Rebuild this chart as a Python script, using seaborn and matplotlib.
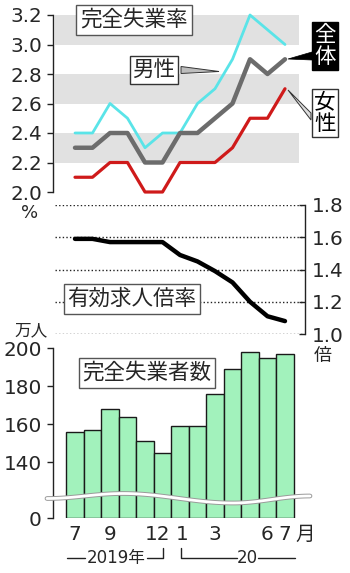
import numpy as np
import pandas as pd
import matplotlib
matplotlib.use("Agg")
import matplotlib.pyplot as plt
import matplotlib.patheffects as pe
import matplotlib.ticker as mticker
from matplotlib.patches import Polygon
from matplotlib.lines import Line2D
import seaborn as sns

sns.set_style("white")
plt.rcParams['font.family'] = ['DejaVu Sans', 'Noto Sans CJK JP']

# ---------------- data ----------------
months = ['2019-07', '2019-08', '2019-09', '2019-10', '2019-11', '2019-12',
          '2020-01', '2020-02', '2020-03', '2020-04', '2020-05', '2020-06', '2020-07']
rate_total = [2.3, 2.3, 2.4, 2.4, 2.2, 2.2, 2.4, 2.4, 2.5, 2.6, 2.9, 2.8, 2.9]
rate_men = [2.4, 2.4, 2.6, 2.5, 2.3, 2.4, 2.4, 2.6, 2.7, 2.9, 3.2, 3.1, 3.0]
rate_women = [2.1, 2.1, 2.2, 2.2, 2.0, 2.0, 2.2, 2.2, 2.2, 2.3, 2.5, 2.5, 2.7]
job_ratio = [1.59, 1.59, 1.57, 1.57, 1.57, 1.57, 1.49, 1.45, 1.39, 1.32, 1.20, 1.11, 1.08]
unemployed = [156, 157, 168, 164, 151, 145, 159, 159, 176, 189, 198, 195, 197]

rate_ticks = [2.0, 2.2, 2.4, 2.6, 2.8, 3.0, 3.2]
ratio_ticks = [1.0, 1.2, 1.4, 1.6, 1.8]
count_ticks = [0, 140, 160, 180, 200]
xtick_pos = [0, 2, 5, 6, 8, 11, 12]
xtick_labels = ['7', '9', '12', '1', '3', '6', '7']

idx = np.arange(len(months))
df = pd.DataFrame({'i': idx, 'total': rate_total, 'men': rate_men,
                   'women': rate_women, 'ratio': job_ratio, 'count': unemployed})

# ---------------- layout helpers ----------------
W, H = 350, 573
fig = plt.figure(figsize=(W / 100, H / 100), dpi=100)


def fx(x):
    return x / W


def fy(y):
    return 1 - y / H


def add_axes(top, bottom, left=53, right=305):
    return fig.add_axes([fx(left), fy(bottom), (right - left) / W, (bottom - top) / H])


def ftext(x, y, s, **kw):
    kw.setdefault('ha', 'center')
    kw.setdefault('va', 'center')
    return fig.text(fx(x), fy(y), s, **kw)


def fline(xs, ys, **kw):
    fig.add_artist(Line2D([fx(v) for v in xs], [fy(v) for v in ys],
                          transform=fig.transFigure, **kw))


def fpoly(pts, **kw):
    fig.add_artist(Polygon([(fx(a), fy(b)) for a, b in pts], closed=True,
                           transform=fig.transFigure, **kw))


XL = (-22 / 17.5, 230 / 17.5)  # x pixel = 75 + 17.5*i
TICKFS = 14.4
JP = 'Noto Sans CJK JP'
JPFS = 15.5

CYAN = '#5ae4e8'
GRAY = '#6c6c6c'
RED = '#cf1a1a'
BAND = '#e1e1e1'
GREEN = '#a2f2bc'
DARK = '#222222'

# ---------------- top: unemployment rate ----------------
ax1 = add_axes(15, 192)
for lo, hi in [(3.0, 3.2), (2.6, 2.8), (2.2, 2.4)]:
    ax1.axhspan(lo, hi, xmin=2 / 252, xmax=246 / 252, color=BAND, lw=0, zorder=0)
sns.lineplot(data=df, x='i', y='men', ax=ax1, color=CYAN, lw=2.0, zorder=3)
sns.lineplot(data=df, x='i', y='total', ax=ax1, color=GRAY, lw=3.2, zorder=4)
sns.lineplot(data=df, x='i', y='women', ax=ax1, color=RED, lw=2.3, zorder=5)
for l in ax1.lines:
    l.set_clip_on(False)
ax1.set_xlim(*XL)
ax1.set_ylim(2.0, 3.2)
ax1.set_yticks(rate_ticks)
ax1.set_yticklabels([f'{v:.1f}' for v in rate_ticks], fontsize=TICKFS)
ax1.set_xticks([])
ax1.set_xlabel('')
ax1.set_ylabel('')
for s in ['top', 'right', 'bottom']:
    ax1.spines[s].set_visible(False)
ax1.spines['left'].set_color(DARK)
ax1.spines['left'].set_linewidth(1)
ax1.tick_params(axis='y', direction='out', length=4, width=1, color=DARK, pad=4, left=True)
ax1.patch.set_alpha(0)

# ---------------- middle: job-offers ratio ----------------
ax2 = add_axes(205, 334)
ax2.hlines(ratio_ticks, -20 / 17.5, 228 / 17.5, colors=DARK, linestyles=(0, (1, 1.6)), lw=1, zorder=1)
sns.lineplot(data=df, x='i', y='ratio', ax=ax2, color='black', lw=3.2, zorder=3)
ax2.set_xlim(*XL)
ax2.set_ylim(1.0, 1.8)
ax2.yaxis.tick_right()
ax2.set_yticks(ratio_ticks)
ax2.set_yticklabels([f'{v:.1f}' for v in ratio_ticks], fontsize=TICKFS)
ax2.set_xticks([])
ax2.set_xlabel('')
ax2.set_ylabel('')
for s in ['top', 'left', 'bottom']:
    ax2.spines[s].set_visible(False)
ax2.spines['right'].set_color(DARK)
ax2.spines['right'].set_linewidth(1)
ax2.tick_params(axis='y', direction='in', length=4, width=1, color=DARK, pad=5, right=True)
ax2.patch.set_alpha(0)

# ---------------- bottom: unemployed persons ----------------
ax3 = add_axes(348, 518)
K = 29.2 / 140.0


def fwd(v):
    v = np.asarray(v, dtype=float)
    return np.where(v >= 140, v, 140 - (140 - v) * K)


def inv(f):
    f = np.asarray(f, dtype=float)
    return np.where(f >= 140, f, 140 - (140 - f) / K)


sns.barplot(data=df, x='i', y='count', ax=ax3, color=GREEN, saturation=1,
            width=1.0, edgecolor='#1a1a1a', linewidth=1.0, zorder=2)
ax3.set_yscale('function', functions=(fwd, inv))
ax3.set_xlim(*XL)
ax3.set_ylim(0, 200)
ax3.set_yticks(count_ticks)
ax3.set_yticklabels([str(v) for v in count_ticks], fontsize=TICKFS)
ax3.yaxis.set_minor_locator(mticker.NullLocator())
ax3.set_xticks([])
ax3.set_xlabel('')
ax3.set_ylabel('')
for s in ['top', 'right', 'bottom']:
    ax3.spines[s].set_visible(False)
ax3.spines['left'].set_color(DARK)
ax3.spines['left'].set_linewidth(1)
ax3.tick_params(axis='y', direction='out', length=4, width=1, color=DARK, pad=4, left=True)
ax3.patch.set_alpha(0)

# month labels (placed at data x positions, small nudges for the tight 12/1 pair)
nudge = {5: -3.5, 6: 1.5}
for p, lab in zip(xtick_pos, xtick_labels):
    ax3.annotate(lab, xy=(p, 0), xycoords=('data', 'axes fraction'),
                 xytext=(nudge.get(p, 0), -12), textcoords='offset points',
                 ha='center', va='center', fontsize=TICKFS, annotation_clip=False)

# wavy axis-break line (decoration, pixel coords)
kx = [47, 123, 233, 310]
ky = [498.5, 493.5, 503, 496.0]
wx, wy = [], []
for j in range(len(kx) - 1):
    t = np.linspace(0, 1, 40)
    wx.extend(kx[j] + (kx[j + 1] - kx[j]) * t)
    wy.extend(ky[j] + (ky[j + 1] - ky[j]) * (1 - np.cos(np.pi * t)) / 2)
fline(wx, wy, color='white', lw=2.0, zorder=10,
      path_effects=[pe.Stroke(linewidth=3.4, foreground='#9a9a9a'), pe.Normal()])

# ---------------- texts ----------------
box_gray = dict(boxstyle='square,pad=0.18', fc='white', ec='#555555', lw=1)
ftext(134, 20, '完全失業率', family=JP, fontsize=JPFS, bbox=box_gray, zorder=20)
ftext(132, 299, '有効求人倍率', family=JP, fontsize=JPFS, bbox=box_gray, zorder=20)
ftext(147, 373, '完全失業者数', family=JP, fontsize=JPFS, bbox=box_gray, zorder=20)

# 男性 label + leader
ftext(154, 70, '男性', family=JP, fontsize=JPFS, bbox=dict(boxstyle='square,pad=0.12', fc='white', ec='#333', lw=1), zorder=20)
fpoly([(181, 66.5), (181, 73.5), (219, 71.5)], fc='#bdbdbd', ec='#333', lw=0.7, zorder=19)

# 全体 label + leader
ftext(325, 46, '全\n体', family=JP, fontsize=JPFS, color='white', linespacing=1.0,
      bbox=dict(boxstyle='square,pad=0.1', fc='black', ec='black', lw=1), zorder=20)
fpoly([(288, 59), (312, 52), (312, 60)], fc='black', ec='black', lw=0.5, zorder=19)

# 女性 label + leader
ftext(325, 113, '女\n性', family=JP, fontsize=JPFS, color='black', linespacing=1.0,
      bbox=dict(boxstyle='square,pad=0.1', fc='white', ec='#333', lw=1), zorder=20)
fpoly([(288, 90), (311, 113), (311, 120)], fc='#dddddd', ec='#333', lw=0.7, zorder=19)

# unit labels
ftext(30, 213, '%', fontsize=13)
ftext(31, 331, '万人', family=JP, fontsize=12)
ftext(323, 356, '倍', family=JP, fontsize=13)
ftext(305, 534, '月', family=JP, fontsize=14)

# year brackets under x axis
YB = 558
fline([67, 85], [YB, YB], color=DARK, lw=1)
ftext(116, YB, '2019年', fontsize=12)
fline([147, 163, 163], [YB, YB, 548], color=DARK, lw=1)
fline([181, 181, 237], [548, YB, YB], color=DARK, lw=1)
ftext(247, YB, '20', fontsize=12)
fline([258, 295], [YB, YB], color=DARK, lw=1)

fig.savefig('out.png', dpi=100)
